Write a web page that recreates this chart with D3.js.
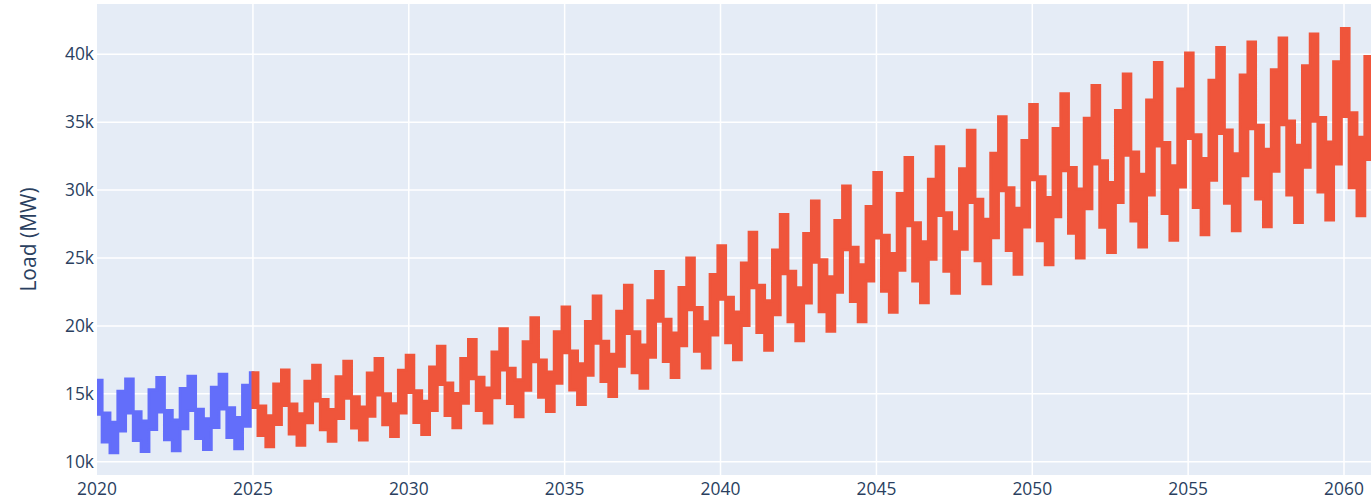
<!DOCTYPE html>
<html><head><meta charset="utf-8">
<script src="https://cdn.jsdelivr.net/npm/d3@7"></script>
<style>html,body{margin:0;padding:0;background:#fff;overflow:hidden} svg{display:block}</style>
</head><body><svg id="chart" width="1371" height="503"></svg>
<script>
// ---------------- data (MW) ----------------
const years = [2020,2021,2022,2023,2024,2025,2026,2027,2028,2029,2030,2031,2032,2033,2034,2035,2036,2037,2038,2039,2040,
               2041,2042,2043,2044,2045,2046,2047,2048,2049,2050,2051,2052,2053,2054,2055,2056,2057,2058,2059,2060];
const forecastStart = 2025;
// winter block (Dec of previous year, Jan, Feb)
const winterHigh = [16000,16100,16200,16300,16450,16550,16750,17100,17400,17600,17850,18500,19000,19800,20600,21400,22200,23000,24000,25000,25900,
                    26900,28200,29200,30300,31300,32400,33200,34400,35400,36300,37100,37700,38550,39400,40100,40500,40900,41200,41500,41900];
const winterLow  = [13490,13590,13660,13760,13870,13990,14140,14470,14670,14900,15100,15680,16110,16750,17360,18020,18720,19430,20330,21190,21950,
                    22810,23830,24690,25600,26460,27370,28120,29090,29950,30750,31410,31920,32560,33240,33800,34160,34510,34810,35060,35410];
// spring block (Mar-May)
const springHigh = [13590,13690,13770,13870,13980,14100,14250,14580,14790,15010,15220,15800,16230,16880,17500,18160,18870,19580,20490,21360,22120,
                    22990,24020,24880,25800,26670,27590,28340,29320,30180,30990,31660,32170,32810,33510,34070,34430,34780,35080,35340,35690];
const springLow  = [11450,11550,11610,11710,11780,11920,12030,12340,12470,12710,12880,13400,13770,14280,14740,15280,15910,16540,17370,18120,18760,
                    19510,20300,21040,21800,22550,23310,24020,24800,25540,26270,26820,27250,27710,28270,28710,29030,29340,29640,29860,30170];
// summer block (Jun-Aug)
const summerHigh = [12900,13000,13070,13170,13260,13390,13530,13850,14040,14270,14460,15020,15430,16030,16600,17220,17910,18590,19480,20300,21030,
                    21850,22810,23630,24500,25330,26190,26940,27850,28670,29460,30080,30570,31160,31800,32330,32670,33010,33310,33550,33900];
const summerLow  = [10650,10750,10800,10900,10950,11100,11200,11500,11600,11850,12000,12500,12850,13300,13700,14200,14800,15400,16200,16900,17500,
                    18200,18900,19600,20300,21000,21700,22400,23100,23800,24500,25000,25400,25800,26300,26700,27000,27300,27600,27800,28100];
// autumn block (Sep-Nov)
const autumnHigh = [15200,15300,15390,15490,15630,15730,15920,16260,16530,16740,16970,17600,18080,18830,19570,20320,21090,21860,22830,23790,24640,
                    25600,26810,27760,28800,29760,30800,31580,32710,33660,34530,35290,35860,36640,37440,38090,38480,38860,39160,39450,39830];
const autumnLow  = [12260,12360,12420,12520,12600,12740,12870,13180,13340,13580,13760,14300,14700,15250,15770,16360,17020,17680,18540,19330,20020,
                    20810,21690,22480,23300,24090,24910,25640,26490,27280,28040,28630,29090,29630,30230,30720,31050,31380,31680,31910,32240];
const monthBlock = ["winter","winter","spring","spring","spring","summer","summer","summer","autumn","autumn","autumn","nextWinter"];

const xTickYears  = [2020,2025,2030,2035,2040,2045,2050,2055,2060];
const yTickValues = [10000,15000,20000,25000,30000,35000,40000];
const yTickLabels = ["10k","15k","20k","25k","30k","35k","40k"];
const yTitle = "Load (MW)";
const colors = {history:"#636EFA", forecast:"#EF553B"};

// ---------------- build monthly series ----------------
const blocks = {
  winter: i => [winterLow[i], winterHigh[i]],
  spring: i => [springLow[i], springHigh[i]],
  summer: i => [summerLow[i], summerHigh[i]],
  autumn: i => [autumnLow[i], autumnHigh[i]],
  nextWinter: i => i + 1 < years.length ? [winterLow[i+1], winterHigh[i+1]] : [winterLow[i], winterHigh[i]]
};
function buildSeries(filter) {
  const pts = [];
  years.forEach((yr, i) => {
    if (!filter(yr)) return;
    monthBlock.forEach((b, m) => {
      const [lo, hi] = blocks[b](i);
      pts.push({date: new Date(Date.UTC(yr, m, 1)), lo, hi});
    });
  });
  const last = pts[pts.length-1];
  const d = last.date;
  pts.push({date: new Date(Date.UTC(d.getUTCFullYear(), d.getUTCMonth()+1, 1)), lo: last.lo, hi: last.hi});
  return pts;
}
const history  = buildSeries(yr => yr < forecastStart);
const forecast = buildSeries(yr => yr >= forecastStart);

// ---------------- chart ----------------
const W = 1371, H = 503;
const P = {left: 97, right: 1371, top: 4, bottom: 475};
const svg = d3.select("#chart");
const x = d3.scaleUtc()
  .domain([new Date(Date.UTC(2020,0,1)), new Date(Date.UTC(2060,0,1))])
  .range([97, 1344]);
const y = d3.scaleLinear().domain([9021, 43700]).range([P.bottom, P.top]);

svg.append("defs").append("clipPath").attr("id","clip")
  .append("rect").attr("x",P.left).attr("y",P.top).attr("width",P.right-P.left).attr("height",P.bottom-P.top);

svg.append("rect").attr("x",P.left).attr("y",P.top).attr("width",P.right-P.left).attr("height",P.bottom-P.top)
  .attr("fill","#E5ECF6");

const grid = svg.append("g").attr("clip-path","url(#clip)");
grid.selectAll("line.gx").data(xTickYears.filter(v => v !== 2020)).join("line")
  .attr("x1", d => x(new Date(Date.UTC(d,0,1)))).attr("x2", d => x(new Date(Date.UTC(d,0,1))))
  .attr("y1", P.top).attr("y2", P.bottom)
  .attr("stroke","#fff").attr("stroke-width",1.5);
grid.selectAll("line.gy").data(yTickValues).join("line")
  .attr("x1", P.left).attr("x2", P.right)
  .attr("y1", d => y(d)).attr("y2", d => y(d))
  .attr("stroke","#fff").attr("stroke-width",1.5);

const area = d3.area()
  .curve(d3.curveStepAfter)
  .x(d => x(d.date))
  .y0(d => y(d.lo))
  .y1(d => y(d.hi));

const traces = svg.append("g").attr("clip-path","url(#clip)");
[[history, colors.history],[forecast, colors.forecast]].forEach(([data, c]) => {
  traces.append("path").datum(data)
    .attr("d", area)
    .attr("fill", c)
    .attr("stroke", c)
    .attr("stroke-width", 2.9)
    .attr("stroke-linejoin","miter");
});

const font = "'Open Sans', verdana, arial, sans-serif";
svg.append("g").selectAll("text").data(yTickValues).join("text")
  .attr("x", 94).attr("y", d => y(d)).attr("dy","0.35em")
  .attr("text-anchor","end")
  .attr("font-family", font).attr("font-size", 17.4).attr("fill","#2a3f5f")
  .text((d,i) => yTickLabels[i]);

svg.append("g").selectAll("text").data(xTickYears).join("text")
  .attr("x", d => x(new Date(Date.UTC(d,0,1)))).attr("y", 495)
  .attr("text-anchor","middle")
  .attr("font-family", font).attr("font-size", 17.4).attr("fill","#2a3f5f")
  .text(d => String(d));

svg.append("text")
  .attr("transform", `translate(36,${(P.top+P.bottom)/2}) rotate(-90)`)
  .attr("text-anchor","middle")
  .attr("font-family", font).attr("font-size", 21).attr("fill","#2a3f5f")
  .text(yTitle);
</script>
</body></html>
